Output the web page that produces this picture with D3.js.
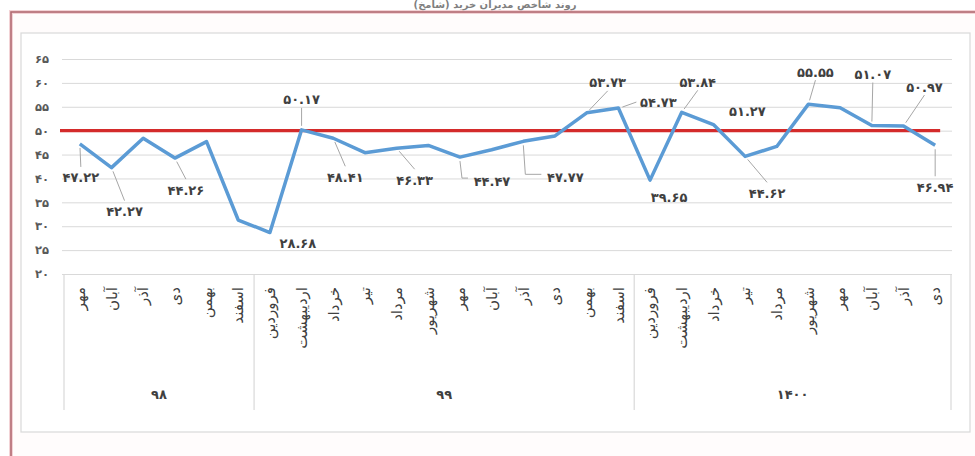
<!DOCTYPE html>
<html>
<head>
<meta charset="utf-8">
<script src="https://cdn.jsdelivr.net/npm/d3@7"></script>
<style>
  html, body { margin: 0; padding: 0; background: #ffffff; }
  svg { display: block; }
  text { font-family: "DejaVu Sans", "Noto Sans", sans-serif; }
</style>
</head>
<body>
<svg id="chart" width="975" height="456"></svg>
<script>
// ---------- data ----------
const chartTitle = "روند شاخص مدیران خرید (شامخ)";
const years = ["۹۸", "۹۹", "۱۴۰۰"];
const monthsY98 = ["مهر", "آبان", "آذر", "دی", "بهمن", "اسفند"];
const monthsY99 = ["فروردین", "اردیبهشت", "خرداد", "تیر", "مرداد", "شهریور", "مهر", "آبان", "آذر", "دی", "بهمن", "اسفند"];
const monthsY1400 = ["فروردین", "اردیبهشت", "خرداد", "تیر", "مرداد", "شهریور", "مهر", "آبان", "آذر", "دی"];
const valuesY98 = [47.22, 42.27, 48.4, 44.26, 47.7, 31.3];
const valuesY99 = [28.68, 50.17, 48.41, 45.4, 46.33, 46.9, 44.47, 46.0, 47.77, 48.9, 53.73, 54.73];
const valuesY1400 = [39.65, 53.84, 51.27, 44.62, 46.7, 55.55, 54.8, 51.07, 50.97, 46.94];
const thresholdValue = 50;
const yTicks = [20, 25, 30, 35, 40, 45, 50, 55, 60, 65];
// indices of points whose value is labelled
const labelledPoints = [0, 1, 3, 6, 7, 8, 10, 12, 14, 16, 17, 18, 19, 20, 21, 23, 25, 26, 27];

// ---------- layout (label placement, not data) ----------
const labelLayout = {
  0: {dx: 1, dy: 34, leader: "straight"},
  1: {dx: 13, dy: 44, leader: "straight"},
  3: {dx: 11, dy: 32, leader: "straight"},
  6: {dx: 28, dy: 11, leader: "none"},
  7: {dx: 0, dy: -30, leader: "straight"},
  8: {dx: 12, dy: 39, leader: "straight"},
  10: {dx: 18, dy: 32, leader: "straight"},
  12: {dx: 32, dy: 24, leader: "elbow"},
  14: {dx: 42, dy: 36, leader: "elbow"},
  16: {dx: 21, dy: -30, leader: "straight"},
  17: {dx: 40, dy: -6, leader: "side"},
  18: {dx: 19, dy: 17, leader: "none"},
  19: {dx: 16, dy: -30, leader: "straight"},
  20: {dx: 34, dy: -13, leader: "none"},
  21: {dx: 22, dy: 37, leader: "straight"},
  23: {dx: 7, dy: -32, leader: "straight"},
  25: {dx: 1, dy: -51, leader: "straight"},
  26: {dx: 21, dy: -39, leader: "straight"},
  27: {dx: 0, dy: 42, leader: "straight"}
};

const faDigits = "۰۱۲۳۴۵۶۷۸۹";
const fa = s => String(s).replace(/[0-9]/g, d => faDigits[+d]);

(function draw() {
  const groups = [
    {year: years[0], months: monthsY98, values: valuesY98},
    {year: years[1], months: monthsY99, values: valuesY99},
    {year: years[2], months: monthsY1400, values: valuesY1400}
  ];
  const points = [];
  groups.forEach((g, gi) => g.months.forEach((m, i) => points.push({group: gi, month: m, value: g.values[i]})));
  points.forEach((p, i) => p.i = i);

  const svg = d3.select("#chart");

  // outer frame
  svg.append("rect").attr("x", 11).attr("y", 12).attr("width", 990).attr("height", 470)
    .attr("fill", "#fffcfc").attr("stroke", "#f3d3d6").attr("stroke-width", 4);
  svg.append("rect").attr("x", 11).attr("y", 12).attr("width", 990).attr("height", 470)
    .attr("fill", "none").attr("stroke", "#b26a72").attr("stroke-width", 1.6);
  // inner chart area
  svg.append("rect").attr("x", 21).attr("y", 33).attr("width", 949).attr("height", 399)
    .attr("fill", "#ffffff").attr("stroke", "#d9d9d9").attr("stroke-width", 1.2);

  // title (sits just above the frame, as in reference)
  svg.append("text").attr("x", 495).attr("y", 8).attr("text-anchor", "middle")
    .attr("font-size", 10).attr("font-weight", "bold").attr("fill", "#7f7f7f").text(chartTitle);

  const pL = 64, pR = 951, pT = 59, pB = 274;
  const x = d3.scaleBand().domain(points.map(p => p.i)).range([pL, pR]);
  const y = d3.scaleLinear().domain([20, 65]).range([pB, pT]);
  const cx = i => x(i) + x.bandwidth() / 2;

  // y axis with gridlines
  const yAxis = d3.axisLeft(y).tickValues(yTicks).tickSize(-(952 - 62)).tickFormat(d => fa(d));
  const gy = svg.append("g").attr("transform", "translate(62,0)").call(yAxis);
  gy.select(".domain").remove();
  gy.selectAll(".tick line").attr("stroke", "#d9d9d9").attr("stroke-width", 1);
  gy.selectAll(".tick text").attr("x", -20).attr("text-anchor", "middle")
    .attr("font-size", 11.5).attr("font-weight", "bold").attr("fill", "#595959");

  // category axis box: group separators
  const sepIdx = [0];
  let acc = 0;
  groups.forEach(g => { acc += g.months.length; sepIdx.push(acc); });
  const sepX = k => k < points.length ? x(k) : x(points.length - 1) + x.bandwidth();
  svg.append("g").selectAll("line").data(sepIdx).join("line")
    .attr("x1", k => sepX(k)).attr("x2", k => sepX(k))
    .attr("y1", pB).attr("y2", 410)
    .attr("stroke", "#d9d9d9").attr("stroke-width", 1.2);

  // month labels (vertical)
  svg.append("g").selectAll("text").data(points).join("text")
    .attr("transform", d => `translate(${cx(d.i)},287) rotate(-90)`)
    .attr("text-anchor", "end").attr("dy", "0.35em")
    .attr("font-size", 15).attr("fill", "#404040").text(d => d.month);

  // year labels
  let start = 0;
  const yearPos = groups.map(g => { const s = start; start += g.months.length; return {year: g.year, s, e: start}; });
  svg.append("g").selectAll("text").data(yearPos).join("text")
    .attr("x", d => (sepX(d.s) + sepX(d.e)) / 2).attr("y", 394).attr("dy", "0.35em")
    .attr("text-anchor", "middle").attr("font-size", 13).attr("font-weight", "bold")
    .attr("fill", "#404040").text(d => d.year);

  // threshold line
  svg.append("line")
    .attr("x1", x.range()[0] - 4).attr("x2", cx(points.length - 1) + 5)
    .attr("y1", y(thresholdValue)).attr("y2", y(thresholdValue))
    .attr("stroke", "#d42b2b").attr("stroke-width", 3.2);

  // series line
  const line = d3.line().x(d => cx(d.i)).y(d => y(d.value));
  svg.append("path").datum(points).attr("d", line)
    .attr("fill", "none").attr("stroke", "#5b9bd5").attr("stroke-width", 3.5)
    .attr("stroke-linejoin", "round");

  // data labels + leaders
  const lbl = labelledPoints.map(i => {
    const p = points[i], L = labelLayout[i];
    const px = cx(i), py = y(p.value);
    return {p, L, px, py, lx: px + L.dx, ly: py + L.dy};
  });
  const leaders = svg.append("g").attr("fill", "none").attr("stroke", "#a6a6a6").attr("stroke-width", 1);
  lbl.forEach(d => {
    const {L, px, py, lx, ly} = d;
    let path = null;
    if (L.leader === "straight") {
      const below = L.dy > 0;
      const ex = lx, ey = below ? ly - 11 : ly + 8;
      const len = Math.hypot(ex - px, ey - py);
      const sx = px + (ex - px) / len * 4, sy = py + (ey - py) / len * 4;
      path = `M${sx},${sy}L${ex},${ey}`;
    } else if (L.leader === "elbow") {
      path = `M${px},${py + 4}L${px + 2},${ly - 3}L${lx - 24},${ly - 3}`;
    } else if (L.leader === "side") {
      path = `M${px + 4},${py - 1}L${lx - 22},${ly}`;
    }
    if (path) leaders.append("path").attr("d", path);
  });
  svg.append("g").selectAll("text").data(lbl).join("text")
    .attr("x", d => d.lx).attr("y", d => d.ly).attr("dy", "0.35em")
    .attr("text-anchor", "middle").attr("font-size", 13).attr("font-weight", "bold")
    .attr("fill", "#404040").text(d => fa(d.p.value.toFixed(2)));
})();
</script>
</body>
</html>
